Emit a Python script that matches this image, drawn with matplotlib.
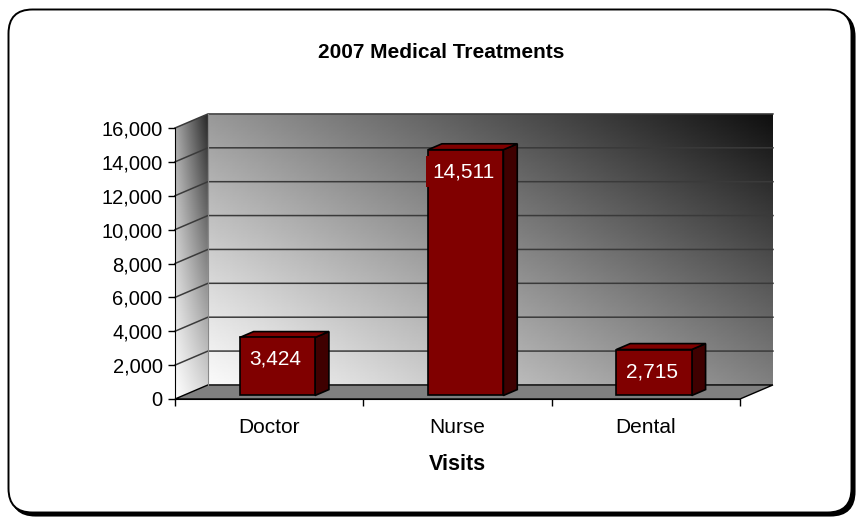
import numpy as np
import matplotlib
matplotlib.use("Agg")
import matplotlib.pyplot as plt
from matplotlib.patches import FancyBboxPatch, Polygon, Rectangle

plt.rcParams["font.family"] = ["Liberation Sans", "DejaVu Sans"]

# data
categories = ["Doctor", "Nurse", "Dental"]
visits = [3424, 14511, 2715]
y_ticks = [0, 2000, 4000, 6000, 8000, 10000, 12000, 14000, 16000]

TITLE = "2007 Medical Treatments"
XLABEL = "Visits"

# 3d look: full wall depth expressed in data units (x: categories, y: value)
DX, DY = 0.175, 830
BAR_W = 0.4
F0, F1 = 0.25, 0.67          # bar front / back depth fraction
BAR_FRONT = "#800000"
BAR_SIDE = "#3f0000"
GRID = "#3a3a3a"

W, H = 858, 519
fig = plt.figure(figsize=(W / 100, H / 100), dpi=100)

# rounded frame with drop shadow
bg = fig.add_axes([0, 0, 1, 1])
bg.set_xlim(0, W); bg.set_ylim(H, 0); bg.axis("off")
bg.add_patch(FancyBboxPatch((11.5, 12.5), 843, 503, boxstyle="round,pad=0,rounding_size=24",
                            facecolor="black", edgecolor="black", lw=1.5))
bg.add_patch(FancyBboxPatch((8.5, 9.5), 843, 503, boxstyle="round,pad=0,rounding_size=24",
                            facecolor="white", edgecolor="black", lw=1.4))

# chart axes = front plane of the 3d box
x0, x1, yb, yt = 175, 740, 399, 128
ax = fig.add_axes([x0 / W, (H - yb) / H, (x1 - x0) / W, (yb - yt) / H])
ax.patch.set_visible(False)
xmin, xmax = -0.5, len(categories) - 0.5
ymin, ymax = y_ticks[0], y_ticks[-1]

# back wall, diagonal gradient light (bottom-left) -> dark (top-right)
u, v = np.meshgrid(np.linspace(0, 1, 300), np.linspace(0, 1, 200))
wall = np.clip(0.98 - 0.92 * (0.55 * u + 0.45 * v) ** 1.1, 0, 1)
im = ax.imshow(wall, extent=(xmin + DX, xmax + DX, ymin + DY, ymax + DY), origin="lower",
               cmap="gray", vmin=0, vmax=1, aspect="auto", interpolation="bilinear", zorder=0)
im.set_clip_on(False)

# side wall
side = np.clip(1.0 - 0.15 * u - 0.35 * v - 0.35 * u * v, 0, 1)
side_poly = Polygon([(xmin, ymin), (xmin + DX, ymin + DY), (xmin + DX, ymax + DY), (xmin, ymax)],
                    closed=True, transform=ax.transData)
im2 = ax.imshow(side, extent=(xmin, xmin + DX, ymin, ymax + DY), origin="lower",
                cmap="gray", vmin=0, vmax=1, aspect="auto", interpolation="bilinear", zorder=0)
im2.set_clip_path(side_poly)
im2.set_clip_box(fig.bbox)

# floor
ax.add_patch(Polygon([(xmin, ymin), (xmax, ymin), (xmax + DX, ymin + DY), (xmin + DX, ymin + DY)],
                     closed=True, facecolor="#808080", edgecolor="black", lw=1, zorder=1,
                     clip_on=False))

# gridlines on back and side walls
for t in y_ticks[1:]:
    ax.plot([xmin, xmin + DX, xmax + DX], [t, t + DY, t + DY], color=GRID, lw=1.1,
            zorder=1, clip_on=False)
ax.plot([xmin + DX, xmin + DX], [ymin + DY, ymax + DY], color="#888888", lw=0.8,
        zorder=1, clip_on=False)

# bars
for i, val in enumerate(visits):
    l, r = i - BAR_W / 2, i + BAR_W / 2
    ax.add_patch(Polygon([(r + F0 * DX, F0 * DY), (r + F1 * DX, F1 * DY),
                          (r + F1 * DX, val + F1 * DY), (r + F0 * DX, val + F0 * DY)],
                         closed=True, facecolor=BAR_SIDE, edgecolor="black", lw=1.2,
                         zorder=3, clip_on=False))
    ax.add_patch(Polygon([(l + F0 * DX, val + F0 * DY), (r + F0 * DX, val + F0 * DY),
                          (r + F1 * DX, val + F1 * DY), (l + F1 * DX, val + F1 * DY)],
                         closed=True, facecolor=BAR_FRONT, edgecolor="black", lw=1.2,
                         zorder=3, clip_on=False))
    ax.add_patch(Rectangle((l + F0 * DX, F0 * DY), BAR_W, val, facecolor=BAR_FRONT,
                           edgecolor="black", lw=1.2, zorder=4, clip_on=False))
    ax.annotate(f"{val:,}", xy=(i + F0 * DX, val + F0 * DY), xytext=(-2, -22),
                textcoords="offset pixels", ha="center", va="center", color="white",
                fontsize=15, zorder=5,
                bbox=dict(boxstyle="square,pad=0.3", facecolor=BAR_FRONT, edgecolor="none"))

ax.set_xlim(xmin, xmax)
ax.set_ylim(ymin, ymax)

# axes, ticks, labels
for s in ("top", "right"):
    ax.spines[s].set_visible(False)
ax.spines["left"].set_zorder(2)
ax.spines["bottom"].set_zorder(2)
ax.set_yticks(y_ticks)
ax.set_yticklabels([f"{t:,}" for t in y_ticks])
ax.tick_params(axis="y", length=5, width=1, pad=4, labelsize=14.5)
ax.set_xticks(range(len(categories)))
ax.set_xticklabels(categories)
ax.set_xticks(np.arange(xmin, xmax + 0.5, 1), minor=True)
ax.tick_params(axis="x", which="major", length=0, pad=14, labelsize=15)
ax.tick_params(axis="x", which="minor", length=5, width=1)
ax.set_xlabel(XLABEL, fontsize=15.5, fontweight="bold", labelpad=12)

fig.text(441 / W, 1 - 58 / H, TITLE, ha="center", va="baseline", fontsize=15,
         fontweight="bold")

fig.savefig("out.png", dpi=100)
